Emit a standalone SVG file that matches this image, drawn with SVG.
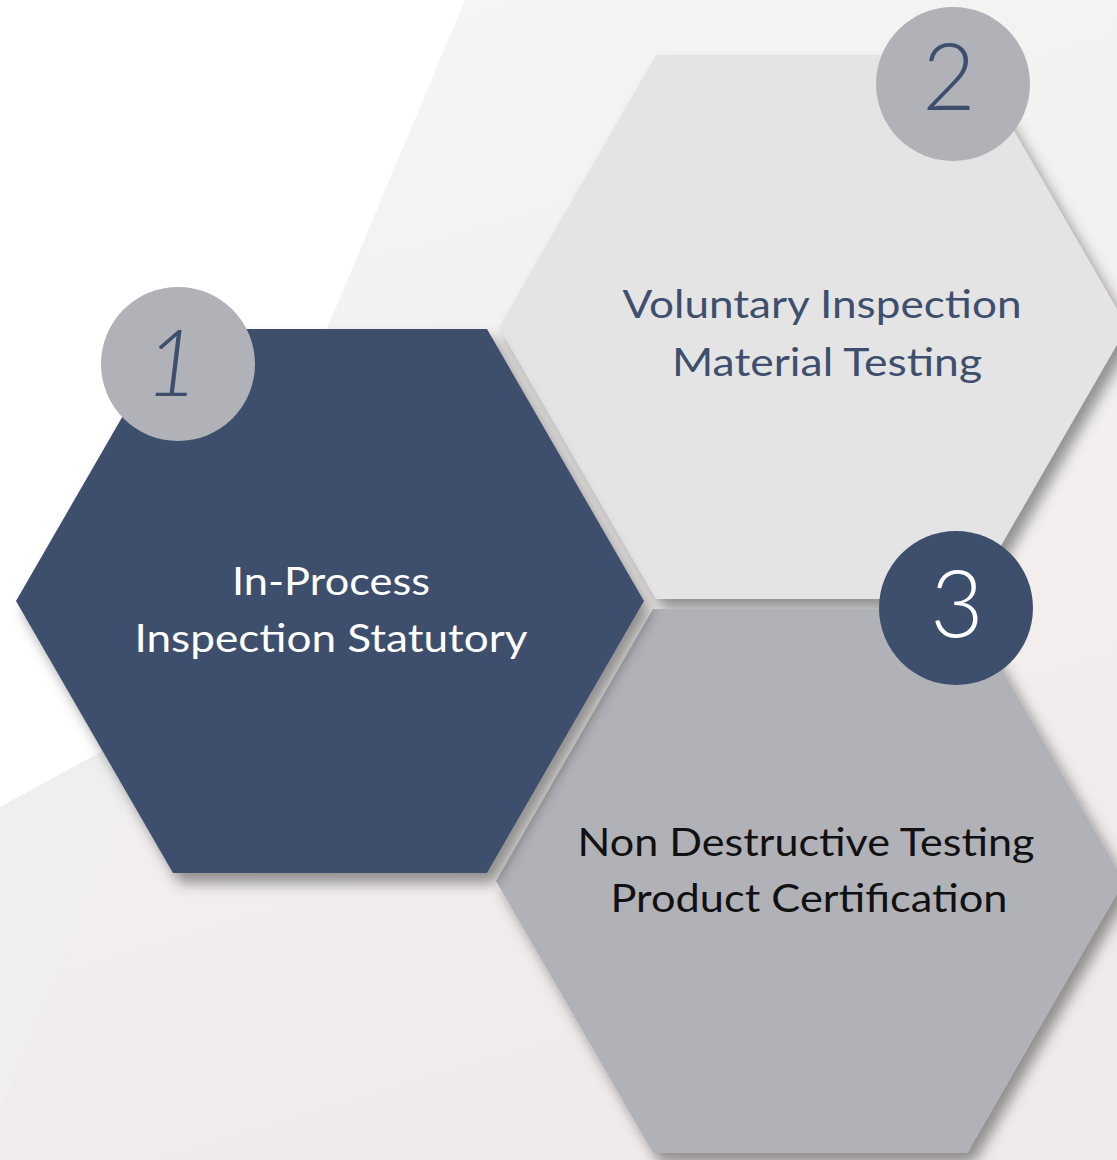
<svg xmlns="http://www.w3.org/2000/svg" width="1117" height="1160" viewBox="0 0 1117 1160">
  <style>
    .lbl { font-family: Lato, "Open Sans", "Liberation Sans", sans-serif; font-size: 39px; text-anchor: middle; }
    .num { font-family: Lato, "Open Sans", "Liberation Sans", sans-serif; font-weight: 300; font-size: 92px; text-anchor: middle; }
  </style>
  <defs>
    <filter id="shadow" x="-20%" y="-20%" width="150%" height="150%">
      <feDropShadow dx="7" dy="10" stdDeviation="7" flood-color="#000" flood-opacity="0.4"/>
    </filter>
    <linearGradient id="warm" x1="0" y1="0" x2="0.3" y2="1">
      <stop offset="0" stop-color="#f7f6f5"/>
      <stop offset="1" stop-color="#efebea"/>
    </linearGradient>
  </defs>

  <g id="background">
    <rect x="0" y="0" width="1117" height="1160" fill="#ffffff"/>
    <polygon points="465,0 1117,0 1117,1160 -22,1160" fill="url(#warm)"/>
    <polygon points="0,807 164,717 -22,1160 0,1160" fill="#efefef"/>
  </g>

  <g id="connectors"/>

  <g id="node-2">
    <polygon points="499,327 656,55 970,55 1127,327 970,599 656,599" fill="#e4e4e5" filter="url(#shadow)"/>
    <text class="lbl" x="822" y="318" fill="#3e4f6d" textLength="399" lengthAdjust="spacingAndGlyphs">Voluntary Inspection</text>
    <text class="lbl" x="827" y="376" fill="#3e4f6d" textLength="310" lengthAdjust="spacingAndGlyphs">Material Testing</text>
  </g>

  <g id="node-3">
    <polygon points="496,881 653,609 967,609 1124,881 967,1153 653,1153" fill="#b1b2b7" filter="url(#shadow)"/>
    <text class="lbl" x="806" y="856" fill="#111111" textLength="457" lengthAdjust="spacingAndGlyphs">Non Destructive Testing</text>
    <text class="lbl" x="809" y="912" fill="#111111" textLength="397" lengthAdjust="spacingAndGlyphs">Product Certification</text>
  </g>

  <g id="node-1">
    <polygon points="16,601 173,329 487,329 644,601 487,873 173,873" fill="#3e4f6d" filter="url(#shadow)"/>
    <text class="lbl" x="331" y="595" fill="#ffffff" textLength="198" lengthAdjust="spacingAndGlyphs">In-Process</text>
    <text class="lbl" x="331" y="652" fill="#ffffff" textLength="393" lengthAdjust="spacingAndGlyphs">Inspection Statutory</text>
  </g>

  <g id="badge-1">
    <circle cx="178" cy="364" r="77" fill="#b1b2b7"/>
    <text class="num" x="172" y="396" fill="#3e4f6d" font-style="italic">1</text>
  </g>
  <g id="badge-2">
    <circle cx="953" cy="84" r="77" fill="#b1b2b7"/>
    <text class="num" x="949" y="110" fill="#3e4f6d">2</text>
  </g>
  <g id="badge-3">
    <circle cx="956" cy="608" r="77" fill="#3e4f6d"/>
    <text class="num" x="957" y="637" fill="#ffffff">3</text>
  </g>
</svg>
